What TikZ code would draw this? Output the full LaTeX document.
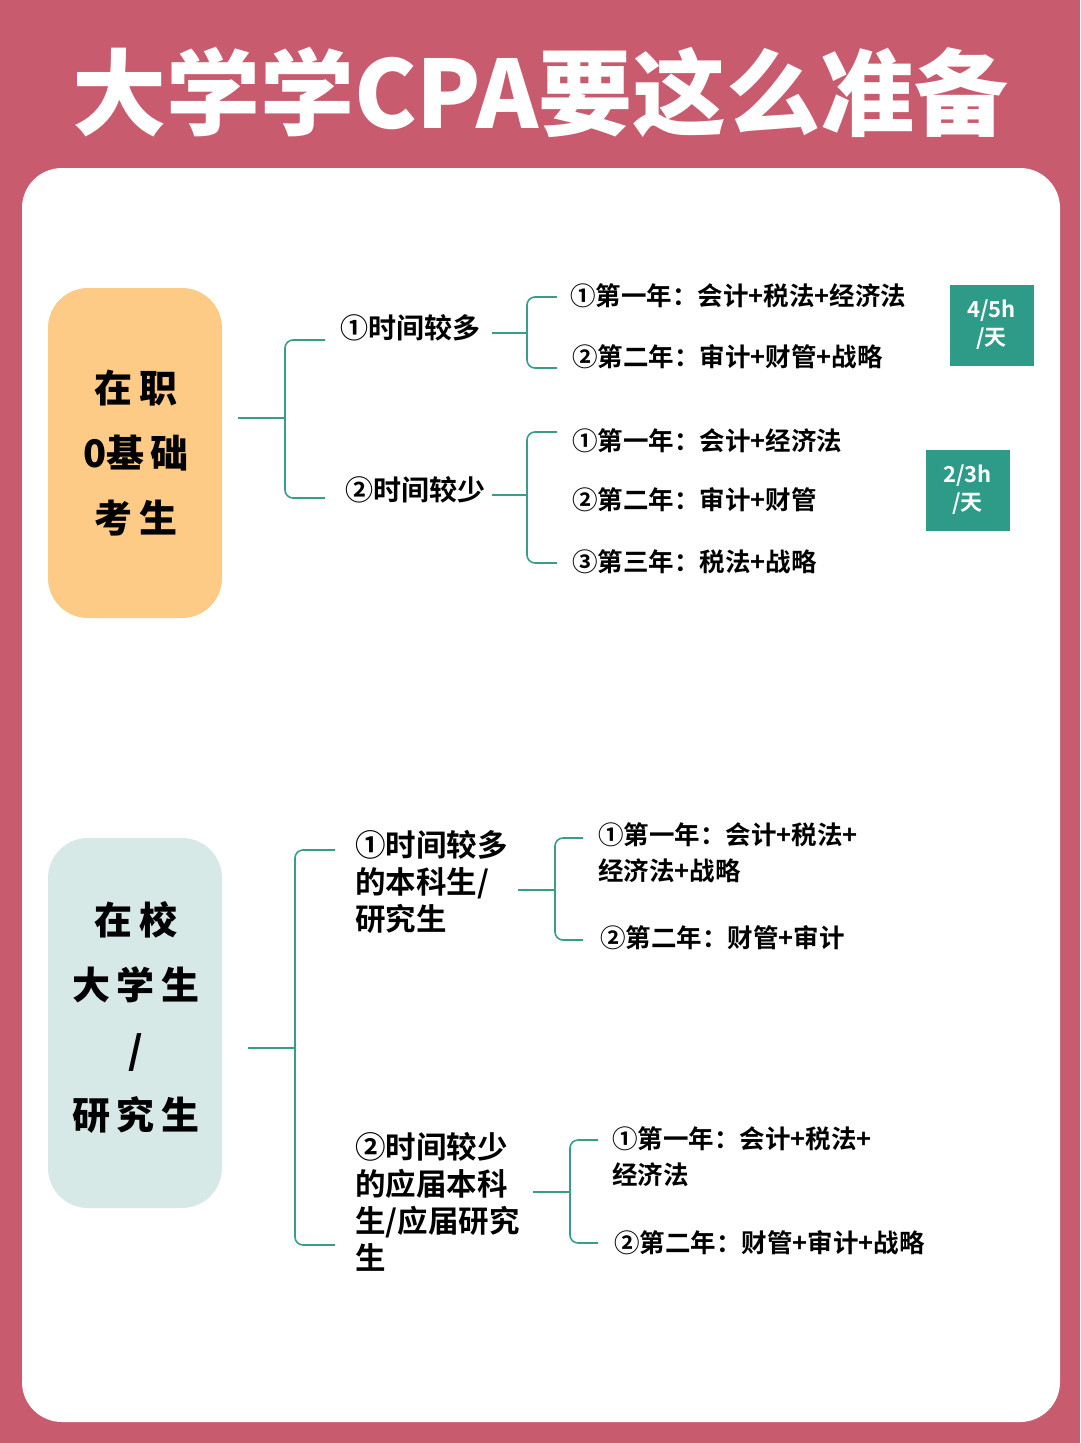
\documentclass[tikz,border=0pt]{standalone}
\usepackage{fontspec}
\setmainfont{Noto Sans CJK SC}[BoldFont={Noto Sans CJK SC Bold}]
\newfontfamily\cjkb{Noto Sans CJK SC Black}
\definecolor{bgpink}{HTML}{C85C6E}
\definecolor{orangebox}{HTML}{FDCB86}
\definecolor{tealbox}{HTML}{D6E9E6}
\definecolor{lineteal}{HTML}{3A9C8A}
\definecolor{tagteal}{HTML}{2E9A88}
\begin{document}
\begin{tikzpicture}[x=1pt,y=-1pt,
  br/.style={draw=lineteal,line width=1.6pt,rounded corners=8pt},
  item/.style={anchor=west,font=\bfseries\fontsize{25.5}{28}\selectfont,inner sep=0pt},
  mid/.style={anchor=west,font=\bfseries\fontsize{28}{37}\selectfont,inner sep=0pt,align=left},
  midb/.style={anchor=west,font=\bfseries\fontsize{30.5}{37}\selectfont,inner sep=0pt,align=left},
  tag/.style={fill=tagteal,text=white,font=\bfseries\fontsize{22}{28}\selectfont,align=center,minimum width=84pt,minimum height=81pt,inner sep=0pt},
  side/.style={font=\cjkb\fontsize{38}{65}\selectfont,align=center}]
\fill[bgpink] (0,0) rectangle (1080,1443);
\useasboundingbox (0,0) rectangle (1080,1443);
\fill[white,rounded corners=40pt] (22,168) rectangle (1060,1422);
\node[text=white,font=\cjkb\fontsize{94}{100}\selectfont] (title) at (540,92) {大学学CPA要这么准备};
% top
\fill[orangebox,rounded corners=40pt] (48,288) rectangle (222,618);
\node[side] (s1) at (136,453) {在\,职\\0基\,础\\考\,生};
\coordinate (a0) at (238,418);
\node[mid] (m1) at (340,328) {①时间较多};
\node[mid] (m2) at (345,490) {②时间较少};
\draw[br] (a0) -- (285,418);
\draw[br] (325,340) -- (285,340) -- (285,498) -- (325,498);
\draw[br] (492,333) -- (527,333);
\draw[br] (557,297) -- (527,297) -- (527,368) -- (557,368);
\node[item] (i11) at (570,296) {①第一年：会计+税法+经济法};
\node[item] (i12) at (572,357) {②第二年：审计+财管+战略};
\draw[br] (492,495) -- (527,495);
\draw[br] (557,432) -- (527,432) -- (527,563) -- (557,563);
\node[item] (i21) at (572,441) {①第一年：会计+经济法};
\node[item] (i22) at (572,500) {②第二年：审计+财管};
\node[item] (i23) at (572,562) {③第三年：税法+战略};
\node[tag] (t1) at (991.5,325) {4/5h\\/天};
\node[tag] (t2) at (967.5,490) {2/3h\\/天};
% bottom
\fill[tealbox,rounded corners=40pt] (48,838) rectangle (222,1208);
\node[side] (s2) at (136,1017) {在\,校\\大\,学\,生\\/\\研\,究\,生};
\coordinate (b0) at (248,1048);
\draw[br] (b0) -- (295,1048);
\draw[br] (335,850) -- (295,850) -- (295,1245) -- (335,1245);
\node[midb] (m3) at (355,882) {①时间较多\\的本科生/\\研究生};
\node[midb] (m4) at (355,1202) {②时间较少\\的应届本科\\生/应届研究\\生};
\draw[br] (518,890) -- (555,890);
\draw[br] (583,838) -- (555,838) -- (555,940) -- (583,940);
\node[item,align=left,font=\bfseries\fontsize{25.5}{36}\selectfont] (i31) at (598,853) {①第一年：会计+税法+\\经济法+战略};
\node[item] (i32) at (600,938) {②第二年：财管+审计};
\draw[br] (533,1192) -- (570,1192);
\draw[br] (598,1140) -- (570,1140) -- (570,1243) -- (598,1243);
\node[item,align=left,font=\bfseries\fontsize{25.5}{36}\selectfont] (i41) at (612,1157) {①第一年：会计+税法+\\经济法};
\node[item] (i42) at (614,1243) {②第二年：财管+审计+战略};
\end{tikzpicture}
\end{document}
